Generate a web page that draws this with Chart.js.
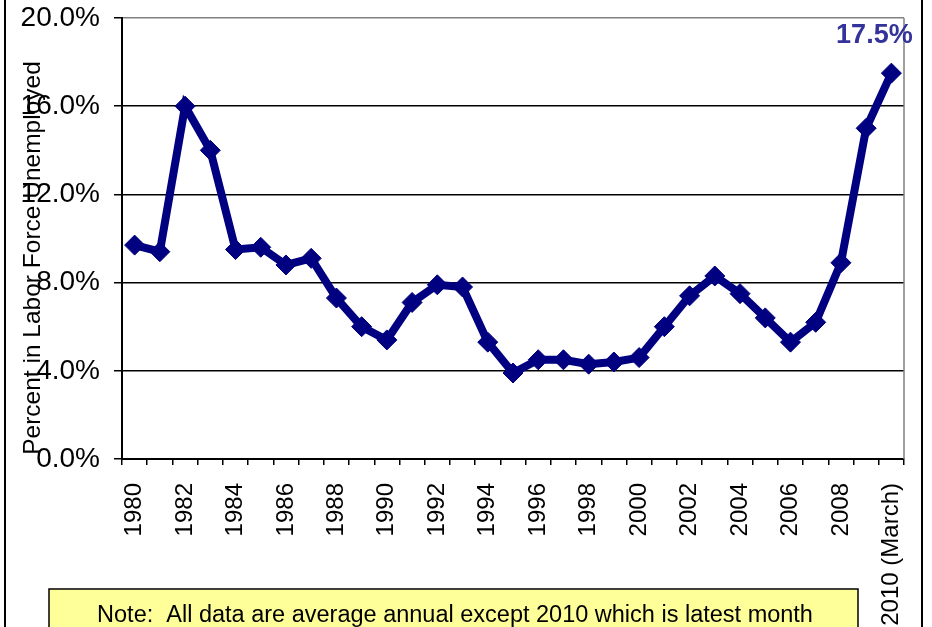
<!DOCTYPE html>
<html>
<head>
<meta charset="utf-8">
<script src="https://cdn.jsdelivr.net/npm/chart.js@4/dist/chart.umd.min.js"></script>
<style>
  body { margin: 0; background: #fff; }
  canvas { display: block; }
</style>
</head>
<body>
<canvas id="unempChart" width="932" height="627"></canvas>
<script>
const years = ['1980','1981','1982','1983','1984','1985','1986','1987','1988','1989',
  '1990','1991','1992','1993','1994','1995','1996','1997','1998','1999',
  '2000','2001','2002','2003','2004','2005','2006','2007','2008','2009','2010 (March)'];
const unemployment = [9.7, 9.4, 16.0, 14.0, 9.5, 9.6, 8.8, 9.1, 7.3, 6.0,
  5.4, 7.1, 7.9, 7.8, 5.3, 3.9, 4.5, 4.5, 4.3, 4.4,
  4.6, 6.0, 7.4, 8.3, 7.5, 6.4, 5.3, 6.2, 8.9, 15.0, 17.5];
const yTicks = [0, 4, 8, 12, 16, 20];
const yTitle = 'Percent in Labor Force Unemployed';
const noteText = 'Note:  All data are average annual except 2010 which is latest month';
const lastLabel = '17.5%';

const FONT = '"Liberation Sans", Arial, sans-serif';

// extra drawing: frame, axis title, note box, last value label
const extras = {
  id: 'extras',
  beforeDraw(chart) {
    const c = chart.ctx;
    c.save();
    c.fillStyle = '#fff';
    c.fillRect(0, 0, chart.width, chart.height);
    c.restore();
  },
  afterDraw(chart) {
    const c = chart.ctx;
    const area = chart.chartArea;
    c.save();

    // gray right edge of plot area
    c.strokeStyle = '#808080';
    c.lineWidth = 1.5;
    c.beginPath();
    c.moveTo(area.right, area.top);
    c.lineTo(area.right, area.bottom);
    c.stroke();

    // outer frame
    c.strokeStyle = '#000';
    c.lineWidth = 2;
    c.beginPath();
    c.moveTo(5, 0); c.lineTo(5, chart.height);
    c.moveTo(922, 0); c.lineTo(922, chart.height);
    c.stroke();

    // y axis title (sits over the tick labels like the original)
    c.translate(33, 258);
    c.rotate(-Math.PI / 2);
    c.fillStyle = '#000';
    c.font = '24.5px ' + FONT;
    c.textAlign = 'center';
    c.textBaseline = 'middle';
    c.fillText(yTitle, 0, 0);
    c.setTransform(1, 0, 0, 1, 0, 0);

    // note box
    c.fillStyle = '#FFFF99';
    c.fillRect(49, 589, 809, 60);
    c.strokeStyle = '#000';
    c.lineWidth = 1.5;
    c.strokeRect(49, 589, 809, 60);
    c.fillStyle = '#000';
    c.font = '23.5px ' + FONT;
    c.textAlign = 'center';
    c.textBaseline = 'alphabetic';
    c.fillText(noteText, 455, 622);

    // last value label
    const meta = chart.getDatasetMeta(0);
    const pt = meta.data[meta.data.length - 1];
    c.fillStyle = '#333399';
    c.font = 'bold 27px ' + FONT;
    c.textAlign = 'center';
    c.textBaseline = 'middle';
    c.fillText(lastLabel, pt.x - 17, pt.y - 38);
    c.restore();
  }
};

new Chart(document.getElementById('unempChart').getContext('2d'), {
  type: 'line',
  data: {
    labels: years,
    datasets: [{
      data: unemployment,
      borderColor: '#000080',
      backgroundColor: '#000080',
      borderWidth: 8,
      pointStyle: 'rectRot',
      pointRadius: 10,
      pointBackgroundColor: '#000080',
      pointBorderColor: '#000080',
      pointBorderWidth: 1,
      tension: 0
    }]
  },
  options: {
    responsive: false,
    animation: false,
    layout: { padding: { top: 18, right: 28, left: 0, bottom: 0 } },
    plugins: { legend: { display: false }, tooltip: { enabled: false } },
    scales: {
      x: {
        offset: true,
        afterFit(scale) {
          scale.height = 168;
          scale.paddingLeft = 0;
          scale.paddingRight = 0;
        },
        grid: { offset: true, drawOnChartArea: false, tickLength: 6, color: '#000', lineWidth: 1.5 },
        border: { color: '#000', width: 2 },
        ticks: {
          autoSkip: false,
          minRotation: 90,
          maxRotation: 90,
          padding: 18,
          color: '#000',
          font: { family: FONT, size: 24 },
          callback(v, i) { return i % 2 === 0 ? years[i] : ''; }
        }
      },
      y: {
        min: 0,
        max: 20,
        afterFit(scale) {
          scale.width = 122;
          scale.paddingTop = 0;
          scale.paddingBottom = 0;
        },
        afterBuildTicks(scale) { scale.ticks = yTicks.map(v => ({ value: v })); },
        grid: {
          color: ctx => ctx.tick && ctx.tick.value === 20 ? '#808080' : '#000',
          tickColor: '#000',
          lineWidth: 1.5,
          tickLength: 8
        },
        border: { color: '#000', width: 2 },
        ticks: {
          padding: 14,
          color: '#000',
          font: { family: FONT, size: 28 },
          callback: v => v.toFixed(1) + '%'
        }
      }
    }
  },
  plugins: [extras]
});
</script>
</body>
</html>
